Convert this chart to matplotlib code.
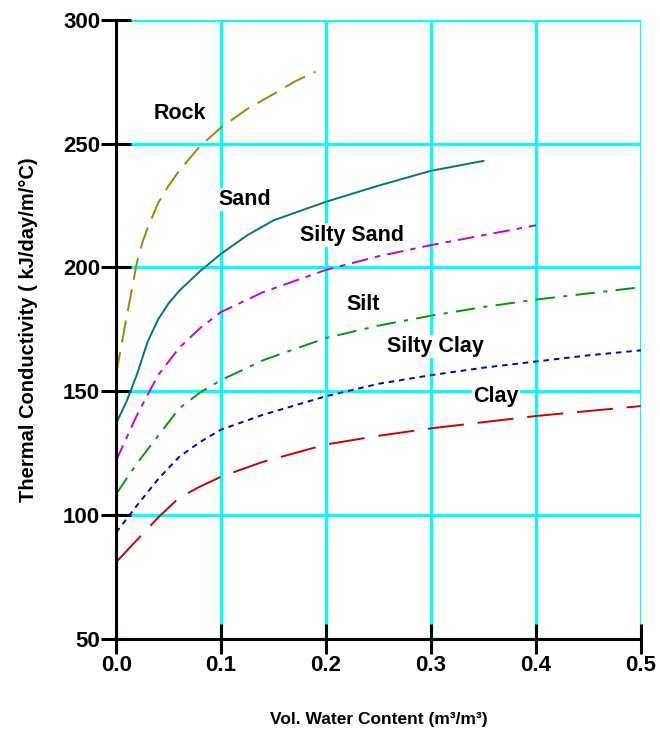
import matplotlib
matplotlib.use("Agg")
import matplotlib.pyplot as plt

#---- Data --------------------------------------------------------------------#

rock_x = [0, 0.01, 0.02, 0.025, 0.03, 0.04, 0.05, 0.06, 0.08, 0.10, 0.125, 0.15, 0.17, 0.19]
rock_y = [157, 180, 202.5, 210, 216, 226, 233, 239, 249, 256.5, 264, 270, 275, 279]

sand_x = [0, 0.01, 0.02, 0.03, 0.04, 0.05, 0.06, 0.08, 0.10, 0.125, 0.15, 0.20, 0.25, 0.30, 0.35]
sand_y = [137, 146, 157, 170, 179, 185.5, 190.5, 198.5, 205.5, 213, 219, 226.5, 233, 239, 243]

silty_sand_x = [0, 0.02, 0.03, 0.04, 0.06, 0.08, 0.10, 0.14, 0.20, 0.25, 0.30, 0.35, 0.40]
silty_sand_y = [122, 140.5, 148.5, 156.5, 167.5, 175.5, 182, 190, 199, 204.5, 209, 213, 217]

silt_x = [0, 0.02, 0.04, 0.06, 0.08, 0.10, 0.14, 0.20, 0.25, 0.30, 0.35, 0.40, 0.45, 0.50]
silt_y = [108.5, 121, 132, 143, 149.5, 154.5, 162.5, 171.5, 176.5, 180.5, 184, 187, 189.5, 192]

silty_clay_x = [0, 0.02, 0.04, 0.06, 0.08, 0.10, 0.14, 0.20, 0.25, 0.30, 0.35, 0.40, 0.45, 0.50]
silty_clay_y = [93, 104, 114.5, 123.5, 129.5, 134.5, 140.5, 148, 153, 156.5, 159.5, 162, 164.5, 166.5]

clay_x = [0, 0.02, 0.04, 0.06, 0.08, 0.10, 0.14, 0.20, 0.25, 0.30, 0.35, 0.40, 0.45, 0.50]
clay_y = [81, 90, 99, 107, 111.5, 115.5, 121.5, 128.5, 132, 135, 137.5, 140, 142, 144]

x_ticks = [0.0, 0.1, 0.2, 0.3, 0.4, 0.5]
y_ticks = [50, 100, 150, 200, 250, 300]

#---- Plotting ----------------------------------------------------------------#

plt.rcParams['font.family'] = ['Liberation Sans', 'DejaVu Sans']
plt.rcParams['lines.scale_dashes'] = False

fig = plt.figure(figsize=(6.6, 7.31), dpi=100)
ax = fig.add_axes([0.176, 0.126, 0.795, 0.847])

ax.set_xlim(0, 0.5)
ax.set_ylim(50, 300)
ax.set_xticks(x_ticks)
ax.set_yticks(y_ticks)
ax.set_xticklabels(['%.1f' % v for v in x_ticks], fontsize=16, fontweight='bold')
ax.set_yticklabels([str(v) for v in y_ticks], fontsize=16, fontweight='bold')

ax.grid(True, color='#00ffff', linewidth=2.3, zorder=0)
ax.set_axisbelow(True)

for side in ['top', 'right']:
    ax.spines[side].set_visible(False)
for side in ['left', 'bottom']:
    ax.spines[side].set_linewidth(2.2)
    ax.spines[side].set_zorder(5)

ax.tick_params(direction='inout', length=21, width=2.2, pad=1)

lw = 1.4
ax.plot(rock_x, rock_y, color='#9a8a00', lw=lw, linestyle=(0, (16, 7)), zorder=3)
ax.plot(sand_x, sand_y, color='#007878', lw=lw, linestyle='-', zorder=3)
ax.plot(silty_sand_x, silty_sand_y, color='#cc00cc', lw=lw, linestyle=(0, (12, 5, 4, 5)), zorder=3)
ax.plot(silt_x, silt_y, color='#009900', lw=lw, linestyle=(0, (14, 6, 3, 6)), zorder=3)
ax.plot(silty_clay_x, silty_clay_y, color='#0000cc', lw=lw, linestyle=(0, (4, 3.5)), zorder=3)
ax.plot(clay_x, clay_y, color='#cc0000', lw=lw, linestyle=(0, (26, 10)), zorder=3)

# curve names, white box hides the grid behind them
box = dict(facecolor='white', edgecolor='none', pad=1.0)
labels = [('Rock', 0.061, 262), ('Sand', 0.123, 227.5), ('Silty Sand', 0.225, 213),
          ('Silt', 0.235, 185), ('Silty Clay', 0.304, 168), ('Clay', 0.362, 148)]
for name, lx, ly in labels:
    ax.text(lx, ly, name, fontsize=15.5, fontweight='bold', ha='center', va='center',
            bbox=box, zorder=4)

ax.set_xlabel('Vol. Water Content (m³/m³)', fontsize=12.5, fontweight='bold', labelpad=26)
ax.set_ylabel('Thermal Conductivity ( kJ/day/m/°C)', fontsize=14.5, fontweight='bold', labelpad=18)

plt.savefig('out.png', dpi=100)
